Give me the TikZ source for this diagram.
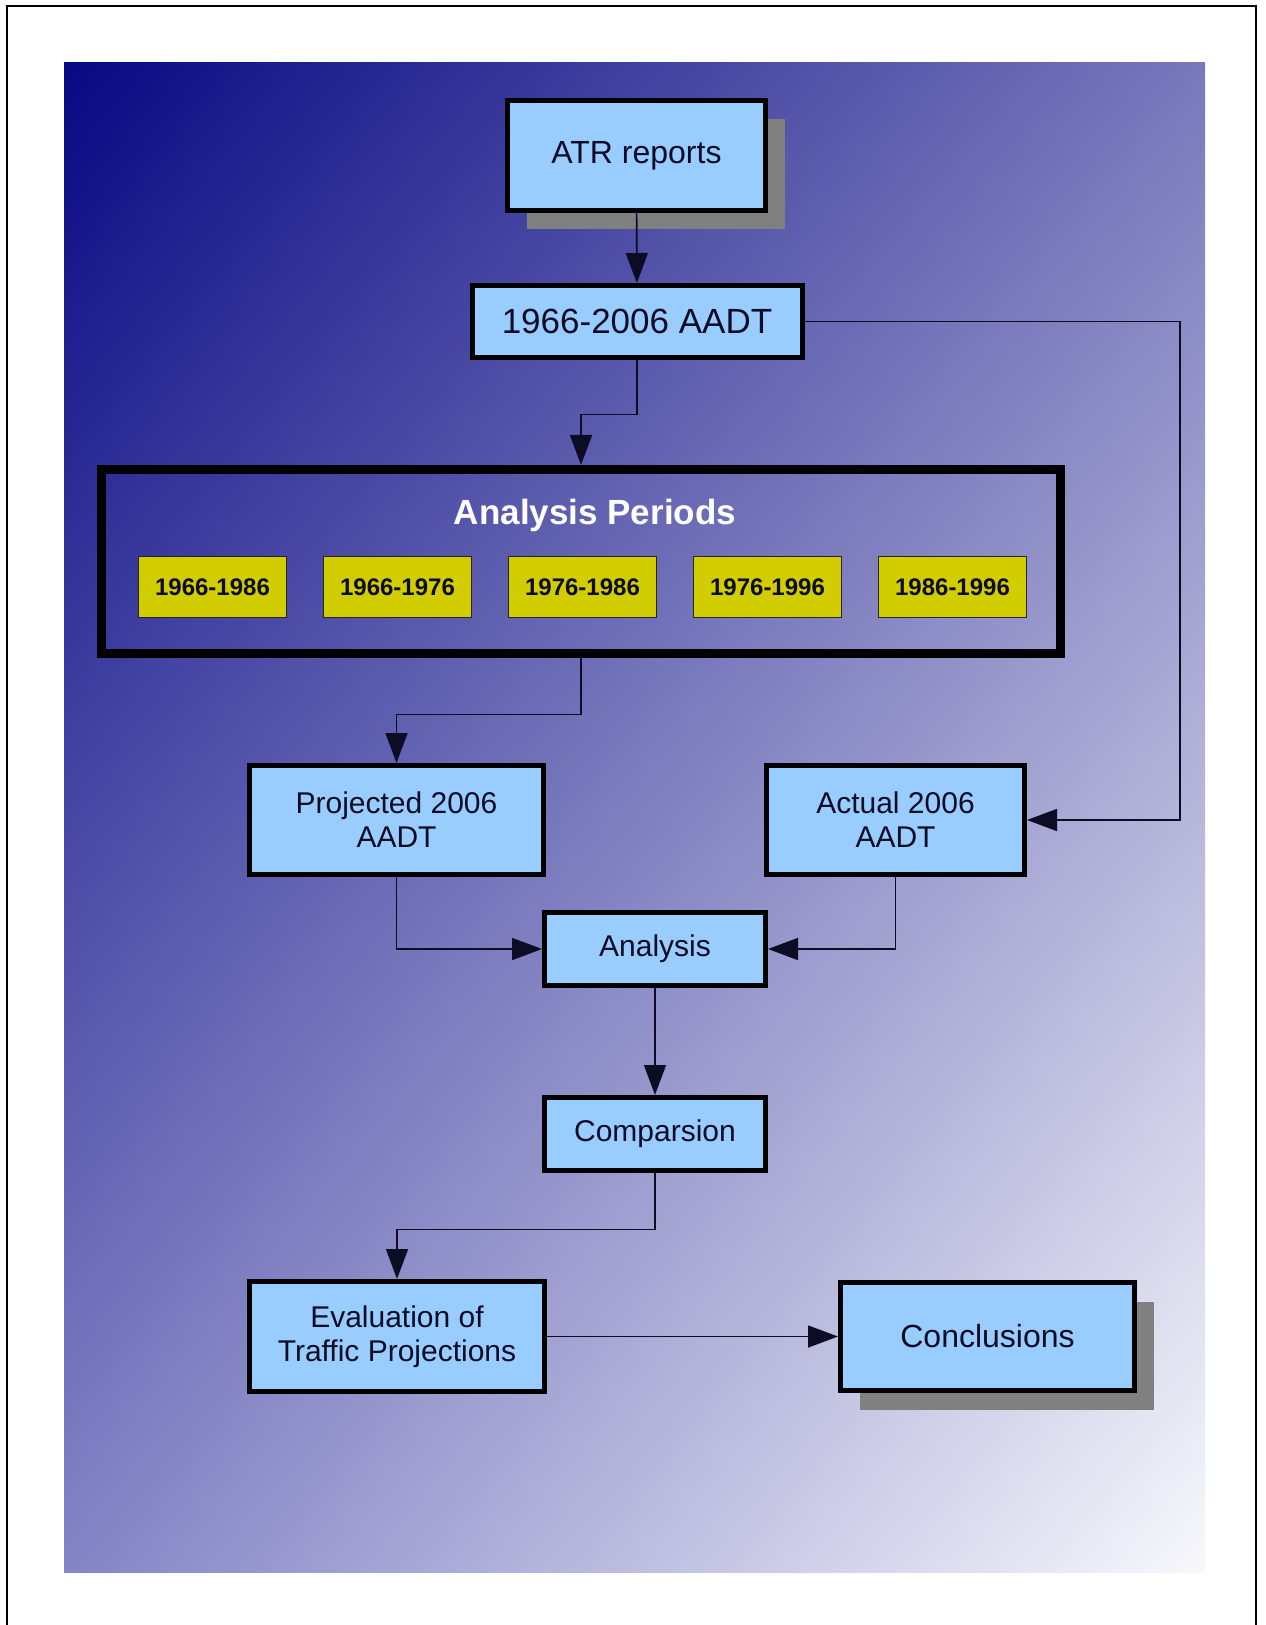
\documentclass[tikz,border=0pt]{standalone}
\usepackage{fontspec}
\setmainfont{Liberation Sans}
\usetikzlibrary{arrows.meta, shadows, shadings}

\definecolor{boxblue}{RGB}{153,204,255}
\definecolor{periodyellow}{RGB}{210,205,0}
\definecolor{bgnavy}{RGB}{8,8,130}
\definecolor{bgmidtop}{RGB}{120,120,188}
\definecolor{bgmidbot}{RGB}{132,132,198}
\definecolor{bgpale}{RGB}{248,248,252}
\definecolor{ink}{RGB}{12,12,36}

\begin{document}
\begin{tikzpicture}[
  x=0.5pt, y=-0.5pt,
  box/.style={draw=black, line width=2.5pt, fill=boxblue, text=ink, align=center,
              inner sep=0pt, font=\fontsize{15pt}{17pt}\selectfont},
  shadowed/.style={drop shadow={shadow xshift=9.5pt, shadow yshift=-9.5pt,
              fill=black!50, opacity=1}},
  periodbox/.style={draw=black!85, line width=0.6pt, fill=periodyellow, text=ink,
              inner sep=0pt, minimum width=73.9pt, minimum height=30.4pt,
              font=\bfseries\fontsize{12pt}{14pt}\selectfont},
  conn/.style={draw=ink, line width=0.8pt, -{Triangle[length=15pt, width=11pt]}},
  ]
  \useasboundingbox (0,0) rectangle (1265,1625);

  % --- page frame and shaded background ---
  \draw[line width=1.2pt] (7,1625) -- (7,6) -- (1256,6) -- (1256,1625);
  \shade[upper left=bgnavy, upper right=bgmidtop, lower left=bgmidbot, lower right=bgpale]
    (64,63) rectangle (1205,1572);

  % --- data sources ---
  \node[box, shadowed, minimum width=129pt, minimum height=55pt,
        font=\fontsize{16pt}{18pt}\selectfont] (atr) at (636.5,155.5) {ATR reports};
  \node[box, minimum width=165pt, minimum height=36pt,
        font=\fontsize{17.5pt}{20pt}\selectfont] (aadt) at (637,321.5) {1966-2006 AADT};

  % --- analysis periods group ---
  \node[draw=black, line width=4.5pt, inner sep=0pt,
        minimum width=479.5pt, minimum height=92pt] (periods) at (581,561.5) {};
  \node[text=white, font=\bfseries\fontsize{17.5pt}{20pt}\selectfont] (title) at (595,515)
    {Analysis Periods};
  \foreach \lbl [count=\i from 0] in {1966-1986, 1966-1976, 1976-1986, 1976-1996, 1986-1996}
    \node[periodbox] (p\i) at (212.5+185*\i,587) {\lbl};

  % --- projections vs. actual ---
  \node[box, minimum width=147pt, minimum height=54.5pt] (projected) at (396.5,820)
    {Projected 2006\\AADT};
  \node[box, minimum width=129pt, minimum height=54.5pt] (actual) at (895.5,820)
    {Actual 2006\\AADT};
  \node[box, minimum width=110.5pt, minimum height=36.5pt] (analysis) at (655,949) {Analysis};
  \node[box, minimum width=110.5pt, minimum height=36.5pt] (compare) at (655,1134) {Comparsion};
  \node[box, minimum width=147.5pt, minimum height=55pt] (evaluation) at (397,1336.5)
    {Evaluation of\\Traffic Projections};
  \node[box, shadowed, minimum width=147pt, minimum height=54pt,
        font=\fontsize{16pt}{18pt}\selectfont] (conclusions) at (987.5,1336.5) {Conclusions};

  % --- connectors ---
  \draw[conn] (atr) -- (aadt);
  \draw[conn] (aadt.south) -- ++(0,-27.25pt) -| (periods.north);
  \draw[conn] (aadt.east) -- ++(187.75pt,0) |- (actual.east);
  \draw[conn] (periods.south) -- ++(0,-28.25pt) -| (projected.north);
  \draw[conn] (projected.south) |- (analysis.west);
  \draw[conn] (actual.south) |- (analysis.east);
  \draw[conn] (analysis) -- (compare);
  \draw[conn] (compare.south) -- ++(0,-28.25pt) -| (evaluation.north);
  \draw[conn] (evaluation.east) -- (evaluation.east -| conclusions.west);

\end{tikzpicture}
\end{document}
